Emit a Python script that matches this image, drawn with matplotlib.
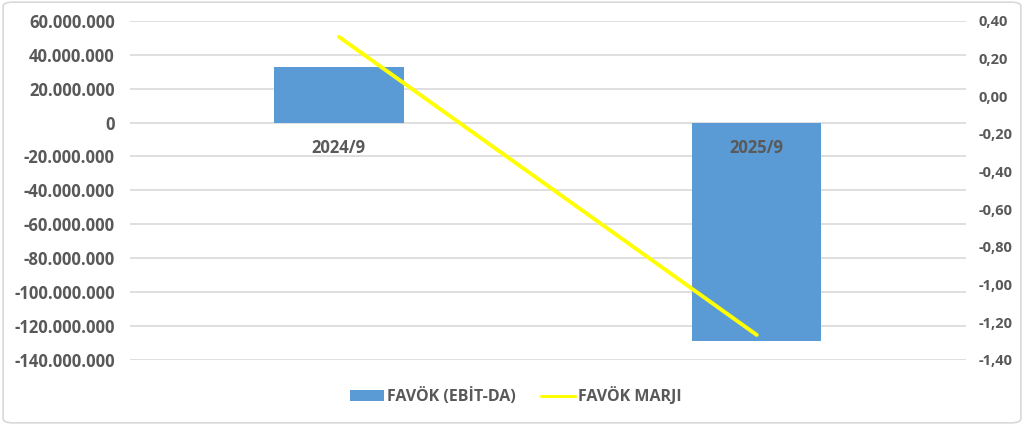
import numpy as np
import matplotlib.pyplot as plt
from matplotlib.patches import FancyBboxPatch
from matplotlib.ticker import FuncFormatter, MultipleLocator

categories = ["2024/9", "2025/9"]
favok = [32500000, -129000000]
favok_marji = [0.315, -1.267]

bar_color = "#5B9BD5"
line_color = "#FFFF00"
text_color = "#595959"
grid_color = "#D9D9D9"

plt.rcParams['font.family'] = ['Open Sans', 'DejaVu Sans']
plt.rcParams['font.weight'] = 'bold'


def thousands(v, pos):
    s = f"{abs(int(round(v))):,}".replace(",", ".")
    return ("-" if v < 0 else "") + s


def decimals(v, pos):
    return f"{v:.2f}".replace(".", ",")


fig = plt.figure(figsize=(10.24, 4.25), dpi=100)
fig.patches.append(FancyBboxPatch((0.003, 0.005), 0.994, 0.99, boxstyle="round,pad=0,rounding_size=0.01",
                                  transform=fig.transFigure, facecolor="white", edgecolor="#D9D9D9",
                                  linewidth=1.2, zorder=-1))

ax = fig.add_axes([0.127, 0.153, 0.816, 0.798])
ax.patch.set_alpha(0)
x = np.arange(len(categories))

ax.bar(x, favok, width=0.31, color=bar_color, zorder=2, label="FAVÖK (EBİT-DA)")
ax.set_xlim(-0.5, 1.5)
ax.set_ylim(-140000000, 60000000)
ax.yaxis.set_major_locator(MultipleLocator(20000000))
ax.yaxis.set_major_formatter(FuncFormatter(thousands))
ax.grid(axis='y', color=grid_color, linewidth=1.2, zorder=0)
ax.set_xticks([])
for s in ax.spines.values():
    s.set_visible(False)
ax.tick_params(axis='y', length=0, labelsize=12, labelcolor=text_color, pad=11)

for xi, lab in zip(x, categories):
    ax.annotate(lab, xy=(xi, 0), xytext=(0, -18), textcoords='offset points',
                ha='center', va='center', fontsize=12, color=text_color, fontweight='bold', zorder=4)

ax2 = ax.twinx()
ax2.plot(x, favok_marji, color=line_color, linewidth=2.8, solid_capstyle='round', zorder=3,
         label="FAVÖK MARJI")
ax2.set_ylim(-1.40, 0.40)
ax2.yaxis.set_major_locator(MultipleLocator(0.2))
ax2.yaxis.set_major_formatter(FuncFormatter(decimals))
for s in ax2.spines.values():
    s.set_visible(False)
ax2.tick_params(axis='y', length=0, labelsize=10.5, labelcolor=text_color, pad=9)

h1, l1 = ax.get_legend_handles_labels()
h2, l2 = ax2.get_legend_handles_labels()
leg = fig.legend(h1 + h2, l1 + l2, loc='center', bbox_to_anchor=(0.504, 0.068), ncol=2, frameon=False,
                 fontsize=11.5, handlelength=2.1, handleheight=0.6, columnspacing=1.6, handletextpad=0.2)
for t in leg.get_texts():
    t.set_color(text_color)
leg.get_lines()[0].set_linewidth(2.2)

fig.savefig("out.png", dpi=100)
